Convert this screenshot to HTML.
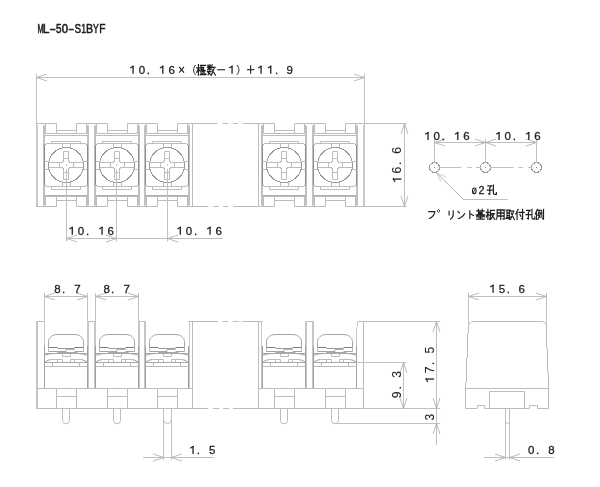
<!DOCTYPE html>
<html><head><meta charset="utf-8"><style>
html,body{margin:0;padding:0;background:#fff;}
svg{display:block;}
</style></head><body>
<svg width="600" height="487" viewBox="0 0 600 487">
<rect width="600" height="487" fill="#fff"/>
<g opacity="0.995">
<text transform="translate(37.40,32.70) scale(0.593,1)" x="0" y="0" font-family="Liberation Sans" font-weight="normal" font-size="12.35" fill="#1a1a1a" stroke="#1a1a1a" stroke-width="0.55">M</text>
<text transform="translate(42.71,32.70) scale(0.973,1)" x="0" y="0" font-family="Liberation Sans" font-weight="normal" font-size="12.35" fill="#1a1a1a" stroke="#1a1a1a" stroke-width="0.55">L</text>
<text transform="translate(49.44,32.70) scale(1.565,1)" x="0" y="0" font-family="Liberation Sans" font-weight="normal" font-size="12.30" fill="#1a1a1a" stroke="#1a1a1a" stroke-width="0.55">-</text>
<text transform="translate(55.90,32.70) scale(0.802,1)" x="0" y="0" font-family="Liberation Sans" font-weight="normal" font-size="12.35" fill="#1a1a1a" stroke="#1a1a1a" stroke-width="0.55">5</text>
<text transform="translate(61.86,32.70) scale(0.914,1)" x="0" y="0" font-family="Liberation Sans" font-weight="normal" font-size="12.35" fill="#1a1a1a" stroke="#1a1a1a" stroke-width="0.55">0</text>
<text transform="translate(68.22,32.70) scale(1.432,1)" x="0" y="0" font-family="Liberation Sans" font-weight="normal" font-size="12.30" fill="#1a1a1a" stroke="#1a1a1a" stroke-width="0.55">-</text>
<text transform="translate(74.55,32.70) scale(0.801,1)" x="0" y="0" font-family="Liberation Sans" font-weight="normal" font-size="12.35" fill="#1a1a1a" stroke="#1a1a1a" stroke-width="0.55">S</text>
<text transform="translate(81.35,32.70) scale(0.695,1)" x="0" y="0" font-family="Liberation Sans" font-weight="normal" font-size="12.35" fill="#1a1a1a" stroke="#1a1a1a" stroke-width="0.55">1</text>
<text transform="translate(86.12,32.70) scale(0.867,1)" x="0" y="0" font-family="Liberation Sans" font-weight="normal" font-size="12.35" fill="#1a1a1a" stroke="#1a1a1a" stroke-width="0.55">B</text>
<text transform="translate(93.11,32.70) scale(0.702,1)" x="0" y="0" font-family="Liberation Sans" font-weight="normal" font-size="12.35" fill="#1a1a1a" stroke="#1a1a1a" stroke-width="0.55">Y</text>
<text transform="translate(99.16,32.70) scale(0.828,1)" x="0" y="0" font-family="Liberation Sans" font-weight="normal" font-size="12.35" fill="#1a1a1a" stroke="#1a1a1a" stroke-width="0.55">F</text>
<line x1="36.50" y1="74.00" x2="36.50" y2="123.00" stroke="#c0c0c0" stroke-width="1.0"/>
<line x1="364.50" y1="73.50" x2="364.50" y2="123.00" stroke="#c0c0c0" stroke-width="1.0"/>
<line x1="36.50" y1="77.50" x2="364.50" y2="77.50" stroke="#c0c0c0" stroke-width="1.0"/>
<path d="M47.00,74.00 L36.50,77.50 L47.00,81.00" stroke="#b2b2b2" stroke-width="0.9" fill="none"/>
<path d="M354.00,81.00 L364.50,77.50 L354.00,74.00" stroke="#b2b2b2" stroke-width="0.9" fill="none"/>
<line x1="36.00" y1="123.50" x2="56.50" y2="123.50" stroke="#bcbcbc" stroke-width="1.0"/>
<line x1="76.50" y1="123.50" x2="107.50" y2="123.50" stroke="#bcbcbc" stroke-width="1.0"/>
<line x1="127.50" y1="123.50" x2="157.50" y2="123.50" stroke="#bcbcbc" stroke-width="1.0"/>
<line x1="177.50" y1="123.50" x2="217.70" y2="123.50" stroke="#bcbcbc" stroke-width="1.0"/>
<line x1="222.70" y1="123.50" x2="228.00" y2="123.50" stroke="#bcbcbc" stroke-width="1.0"/>
<line x1="232.70" y1="123.50" x2="238.00" y2="123.50" stroke="#bcbcbc" stroke-width="1.0"/>
<line x1="242.70" y1="123.50" x2="274.50" y2="123.50" stroke="#bcbcbc" stroke-width="1.0"/>
<line x1="294.50" y1="123.50" x2="325.50" y2="123.50" stroke="#bcbcbc" stroke-width="1.0"/>
<line x1="345.50" y1="123.50" x2="365.00" y2="123.50" stroke="#bcbcbc" stroke-width="1.0"/>
<line x1="36.00" y1="206.50" x2="56.50" y2="206.50" stroke="#bcbcbc" stroke-width="1.0"/>
<line x1="76.50" y1="206.50" x2="107.50" y2="206.50" stroke="#bcbcbc" stroke-width="1.0"/>
<line x1="127.50" y1="206.50" x2="157.50" y2="206.50" stroke="#bcbcbc" stroke-width="1.0"/>
<line x1="177.50" y1="206.50" x2="208.50" y2="206.50" stroke="#bcbcbc" stroke-width="1.0"/>
<line x1="213.30" y1="206.50" x2="218.70" y2="206.50" stroke="#bcbcbc" stroke-width="1.0"/>
<line x1="223.20" y1="206.50" x2="228.30" y2="206.50" stroke="#bcbcbc" stroke-width="1.0"/>
<line x1="233.20" y1="206.50" x2="274.50" y2="206.50" stroke="#bcbcbc" stroke-width="1.0"/>
<line x1="294.50" y1="206.50" x2="325.50" y2="206.50" stroke="#bcbcbc" stroke-width="1.0"/>
<line x1="345.50" y1="206.50" x2="365.00" y2="206.50" stroke="#bcbcbc" stroke-width="1.0"/>
<line x1="36.50" y1="124.00" x2="36.50" y2="206.00" stroke="#c4c4c4" stroke-width="1.0"/>
<line x1="37.50" y1="125.00" x2="37.50" y2="206.00" stroke="#cdcdcd" stroke-width="1.0"/>
<line x1="363.50" y1="125.00" x2="363.50" y2="206.00" stroke="#cdcdcd" stroke-width="1.0"/>
<line x1="364.50" y1="123.00" x2="364.50" y2="206.00" stroke="#c4c4c4" stroke-width="1.0"/>
<line x1="192.50" y1="123.50" x2="192.50" y2="206.50" stroke="#bcbcbc" stroke-width="1.0"/>
<line x1="258.50" y1="123.50" x2="258.50" y2="206.50" stroke="#bcbcbc" stroke-width="1.0"/>
<line x1="44.50" y1="125.50" x2="44.50" y2="205.50" stroke="#c0c0c0" stroke-width="1.0"/>
<line x1="43.50" y1="125.50" x2="43.50" y2="205.50" stroke="#c0c0c0" stroke-width="1.0"/>
<line x1="44.50" y1="145.00" x2="44.50" y2="185.00" stroke="#8c8c8c" stroke-width="1.0"/>
<line x1="87.50" y1="125.50" x2="87.50" y2="205.50" stroke="#c0c0c0" stroke-width="1.0"/>
<line x1="88.50" y1="125.50" x2="88.50" y2="205.50" stroke="#c0c0c0" stroke-width="1.0"/>
<line x1="87.50" y1="145.00" x2="87.50" y2="185.00" stroke="#8c8c8c" stroke-width="1.0"/>
<path d="M44.5,126 L45.5,124.5 M87.5,126 L86.5,124.5" stroke="#bcbcbc" stroke-width="1.0" fill="none"/>
<line x1="45.50" y1="123.50" x2="45.50" y2="133.50" stroke="#bcbcbc" stroke-width="1.0"/>
<line x1="56.50" y1="123.50" x2="56.50" y2="133.50" stroke="#bcbcbc" stroke-width="1.0"/>
<line x1="76.50" y1="123.50" x2="76.50" y2="133.50" stroke="#bcbcbc" stroke-width="1.0"/>
<line x1="86.50" y1="123.50" x2="86.50" y2="133.50" stroke="#bcbcbc" stroke-width="1.0"/>
<line x1="56.50" y1="130.50" x2="76.50" y2="130.50" stroke="#bcbcbc" stroke-width="1.0"/>
<line x1="45.50" y1="133.50" x2="86.50" y2="133.50" stroke="#bcbcbc" stroke-width="1.0"/>
<line x1="44.50" y1="135.50" x2="87.50" y2="135.50" stroke="#bcbcbc" stroke-width="1.0"/>
<line x1="51.50" y1="141.50" x2="80.50" y2="141.50" stroke="#bcbcbc" stroke-width="1.0"/>
<line x1="51.50" y1="141.50" x2="51.50" y2="143.50" stroke="#bcbcbc" stroke-width="1.0"/>
<line x1="80.50" y1="141.50" x2="80.50" y2="143.50" stroke="#bcbcbc" stroke-width="1.0"/>
<line x1="46.50" y1="143.50" x2="85.50" y2="143.50" stroke="#bcbcbc" stroke-width="1.0"/>
<line x1="46.50" y1="186.50" x2="85.50" y2="186.50" stroke="#bcbcbc" stroke-width="1.0"/>
<path d="M44.5,145.5 L46.5,143.5 M87.5,145.5 L85.5,143.5 M44.5,184.5 L46.5,186.5 M87.5,184.5 L85.5,186.5" stroke="#9a9a9a" stroke-width="1.0" fill="none"/>
<line x1="62.50" y1="143.50" x2="62.50" y2="148.20" stroke="#bcbcbc" stroke-width="1.0"/>
<line x1="62.50" y1="181.80" x2="62.50" y2="186.50" stroke="#bcbcbc" stroke-width="1.0"/>
<line x1="70.50" y1="143.50" x2="70.50" y2="148.20" stroke="#bcbcbc" stroke-width="1.0"/>
<line x1="70.50" y1="181.80" x2="70.50" y2="186.50" stroke="#bcbcbc" stroke-width="1.0"/>
<circle cx="66.00" cy="165.00" r="17.5" stroke="#9a9a9a" stroke-width="1.0" fill="none" shape-rendering="crispEdges"/>
<line x1="44.50" y1="161.50" x2="49.00" y2="161.50" stroke="#bcbcbc" stroke-width="1.0"/>
<line x1="44.50" y1="169.50" x2="49.00" y2="169.50" stroke="#bcbcbc" stroke-width="1.0"/>
<line x1="83.00" y1="161.50" x2="87.50" y2="161.50" stroke="#bcbcbc" stroke-width="1.0"/>
<line x1="83.00" y1="169.50" x2="87.50" y2="169.50" stroke="#bcbcbc" stroke-width="1.0"/>
<line x1="48.70" y1="162.50" x2="61.50" y2="162.50" stroke="#bcbcbc" stroke-width="1.0"/>
<line x1="48.70" y1="167.50" x2="61.50" y2="167.50" stroke="#bcbcbc" stroke-width="1.0"/>
<line x1="70.50" y1="162.50" x2="83.30" y2="162.50" stroke="#bcbcbc" stroke-width="1.0"/>
<line x1="70.50" y1="167.50" x2="83.30" y2="167.50" stroke="#bcbcbc" stroke-width="1.0"/>
<line x1="59.50" y1="162.50" x2="59.50" y2="167.50" stroke="#bcbcbc" stroke-width="1.0"/>
<line x1="73.50" y1="162.50" x2="73.50" y2="167.50" stroke="#bcbcbc" stroke-width="1.0"/>
<line x1="63.50" y1="151.50" x2="63.50" y2="160.50" stroke="#bcbcbc" stroke-width="1.0"/>
<line x1="68.50" y1="151.50" x2="68.50" y2="160.50" stroke="#bcbcbc" stroke-width="1.0"/>
<line x1="63.50" y1="151.50" x2="68.50" y2="151.50" stroke="#bcbcbc" stroke-width="1.0"/>
<line x1="63.50" y1="158.50" x2="68.50" y2="158.50" stroke="#bcbcbc" stroke-width="1.0"/>
<line x1="63.50" y1="169.50" x2="63.50" y2="179.50" stroke="#bcbcbc" stroke-width="1.0"/>
<line x1="68.50" y1="169.50" x2="68.50" y2="179.50" stroke="#bcbcbc" stroke-width="1.0"/>
<line x1="63.50" y1="179.50" x2="68.50" y2="179.50" stroke="#bcbcbc" stroke-width="1.0"/>
<line x1="63.50" y1="172.50" x2="68.50" y2="172.50" stroke="#bcbcbc" stroke-width="1.0"/>
<path d="M63.5,160.5 q0,2 -2,2 M68.5,160.5 q0,2 2,2 M63.5,169.5 q0,-2 -2,-2 M68.5,169.5 q0,-2 2,-2" stroke="#9a9a9a" stroke-width="1.0" fill="none"/>
<line x1="51.50" y1="189.50" x2="80.50" y2="189.50" stroke="#bcbcbc" stroke-width="1.0"/>
<line x1="51.50" y1="186.50" x2="51.50" y2="189.50" stroke="#bcbcbc" stroke-width="1.0"/>
<line x1="80.50" y1="186.50" x2="80.50" y2="189.50" stroke="#bcbcbc" stroke-width="1.0"/>
<line x1="44.50" y1="195.50" x2="87.50" y2="195.50" stroke="#b0b0b0" stroke-width="1.0"/>
<line x1="44.50" y1="196.50" x2="87.50" y2="196.50" stroke="#bcbcbc" stroke-width="1.0"/>
<line x1="56.50" y1="200.50" x2="76.50" y2="200.50" stroke="#bcbcbc" stroke-width="1.0"/>
<line x1="45.50" y1="196.50" x2="45.50" y2="206.50" stroke="#bcbcbc" stroke-width="1.0"/>
<line x1="56.50" y1="196.50" x2="56.50" y2="206.50" stroke="#bcbcbc" stroke-width="1.0"/>
<line x1="76.50" y1="196.50" x2="76.50" y2="206.50" stroke="#bcbcbc" stroke-width="1.0"/>
<line x1="86.50" y1="196.50" x2="86.50" y2="206.50" stroke="#bcbcbc" stroke-width="1.0"/>
<path d="M44.5,204.5 L45.5,206 M87.5,204.5 L86.5,206" stroke="#bcbcbc" stroke-width="1.0" fill="none"/>
<line x1="95.50" y1="125.50" x2="95.50" y2="205.50" stroke="#c0c0c0" stroke-width="1.0"/>
<line x1="94.50" y1="125.50" x2="94.50" y2="205.50" stroke="#c0c0c0" stroke-width="1.0"/>
<line x1="95.50" y1="145.00" x2="95.50" y2="185.00" stroke="#8c8c8c" stroke-width="1.0"/>
<line x1="138.50" y1="125.50" x2="138.50" y2="205.50" stroke="#c0c0c0" stroke-width="1.0"/>
<line x1="139.50" y1="125.50" x2="139.50" y2="205.50" stroke="#c0c0c0" stroke-width="1.0"/>
<line x1="138.50" y1="145.00" x2="138.50" y2="185.00" stroke="#8c8c8c" stroke-width="1.0"/>
<path d="M95.5,126 L96.5,124.5 M138.5,126 L137.5,124.5" stroke="#bcbcbc" stroke-width="1.0" fill="none"/>
<line x1="96.50" y1="123.50" x2="96.50" y2="133.50" stroke="#bcbcbc" stroke-width="1.0"/>
<line x1="107.50" y1="123.50" x2="107.50" y2="133.50" stroke="#bcbcbc" stroke-width="1.0"/>
<line x1="127.50" y1="123.50" x2="127.50" y2="133.50" stroke="#bcbcbc" stroke-width="1.0"/>
<line x1="137.50" y1="123.50" x2="137.50" y2="133.50" stroke="#bcbcbc" stroke-width="1.0"/>
<line x1="107.50" y1="130.50" x2="127.50" y2="130.50" stroke="#bcbcbc" stroke-width="1.0"/>
<line x1="96.50" y1="133.50" x2="137.50" y2="133.50" stroke="#bcbcbc" stroke-width="1.0"/>
<line x1="95.50" y1="135.50" x2="138.50" y2="135.50" stroke="#bcbcbc" stroke-width="1.0"/>
<line x1="102.50" y1="141.50" x2="131.50" y2="141.50" stroke="#bcbcbc" stroke-width="1.0"/>
<line x1="102.50" y1="141.50" x2="102.50" y2="143.50" stroke="#bcbcbc" stroke-width="1.0"/>
<line x1="131.50" y1="141.50" x2="131.50" y2="143.50" stroke="#bcbcbc" stroke-width="1.0"/>
<line x1="97.50" y1="143.50" x2="136.50" y2="143.50" stroke="#bcbcbc" stroke-width="1.0"/>
<line x1="97.50" y1="186.50" x2="136.50" y2="186.50" stroke="#bcbcbc" stroke-width="1.0"/>
<path d="M95.5,145.5 L97.5,143.5 M138.5,145.5 L136.5,143.5 M95.5,184.5 L97.5,186.5 M138.5,184.5 L136.5,186.5" stroke="#9a9a9a" stroke-width="1.0" fill="none"/>
<line x1="113.50" y1="143.50" x2="113.50" y2="148.20" stroke="#bcbcbc" stroke-width="1.0"/>
<line x1="113.50" y1="181.80" x2="113.50" y2="186.50" stroke="#bcbcbc" stroke-width="1.0"/>
<line x1="121.50" y1="143.50" x2="121.50" y2="148.20" stroke="#bcbcbc" stroke-width="1.0"/>
<line x1="121.50" y1="181.80" x2="121.50" y2="186.50" stroke="#bcbcbc" stroke-width="1.0"/>
<circle cx="117.00" cy="165.00" r="17.5" stroke="#9a9a9a" stroke-width="1.0" fill="none" shape-rendering="crispEdges"/>
<line x1="95.50" y1="161.50" x2="100.00" y2="161.50" stroke="#bcbcbc" stroke-width="1.0"/>
<line x1="95.50" y1="169.50" x2="100.00" y2="169.50" stroke="#bcbcbc" stroke-width="1.0"/>
<line x1="134.00" y1="161.50" x2="138.50" y2="161.50" stroke="#bcbcbc" stroke-width="1.0"/>
<line x1="134.00" y1="169.50" x2="138.50" y2="169.50" stroke="#bcbcbc" stroke-width="1.0"/>
<line x1="99.70" y1="162.50" x2="112.50" y2="162.50" stroke="#bcbcbc" stroke-width="1.0"/>
<line x1="99.70" y1="167.50" x2="112.50" y2="167.50" stroke="#bcbcbc" stroke-width="1.0"/>
<line x1="121.50" y1="162.50" x2="134.30" y2="162.50" stroke="#bcbcbc" stroke-width="1.0"/>
<line x1="121.50" y1="167.50" x2="134.30" y2="167.50" stroke="#bcbcbc" stroke-width="1.0"/>
<line x1="110.50" y1="162.50" x2="110.50" y2="167.50" stroke="#bcbcbc" stroke-width="1.0"/>
<line x1="124.50" y1="162.50" x2="124.50" y2="167.50" stroke="#bcbcbc" stroke-width="1.0"/>
<line x1="114.50" y1="151.50" x2="114.50" y2="160.50" stroke="#bcbcbc" stroke-width="1.0"/>
<line x1="119.50" y1="151.50" x2="119.50" y2="160.50" stroke="#bcbcbc" stroke-width="1.0"/>
<line x1="114.50" y1="151.50" x2="119.50" y2="151.50" stroke="#bcbcbc" stroke-width="1.0"/>
<line x1="114.50" y1="158.50" x2="119.50" y2="158.50" stroke="#bcbcbc" stroke-width="1.0"/>
<line x1="114.50" y1="169.50" x2="114.50" y2="179.50" stroke="#bcbcbc" stroke-width="1.0"/>
<line x1="119.50" y1="169.50" x2="119.50" y2="179.50" stroke="#bcbcbc" stroke-width="1.0"/>
<line x1="114.50" y1="179.50" x2="119.50" y2="179.50" stroke="#bcbcbc" stroke-width="1.0"/>
<line x1="114.50" y1="172.50" x2="119.50" y2="172.50" stroke="#bcbcbc" stroke-width="1.0"/>
<path d="M114.5,160.5 q0,2 -2,2 M119.5,160.5 q0,2 2,2 M114.5,169.5 q0,-2 -2,-2 M119.5,169.5 q0,-2 2,-2" stroke="#9a9a9a" stroke-width="1.0" fill="none"/>
<line x1="102.50" y1="189.50" x2="131.50" y2="189.50" stroke="#bcbcbc" stroke-width="1.0"/>
<line x1="102.50" y1="186.50" x2="102.50" y2="189.50" stroke="#bcbcbc" stroke-width="1.0"/>
<line x1="131.50" y1="186.50" x2="131.50" y2="189.50" stroke="#bcbcbc" stroke-width="1.0"/>
<line x1="95.50" y1="195.50" x2="138.50" y2="195.50" stroke="#b0b0b0" stroke-width="1.0"/>
<line x1="95.50" y1="196.50" x2="138.50" y2="196.50" stroke="#bcbcbc" stroke-width="1.0"/>
<line x1="107.50" y1="200.50" x2="127.50" y2="200.50" stroke="#bcbcbc" stroke-width="1.0"/>
<line x1="96.50" y1="196.50" x2="96.50" y2="206.50" stroke="#bcbcbc" stroke-width="1.0"/>
<line x1="107.50" y1="196.50" x2="107.50" y2="206.50" stroke="#bcbcbc" stroke-width="1.0"/>
<line x1="127.50" y1="196.50" x2="127.50" y2="206.50" stroke="#bcbcbc" stroke-width="1.0"/>
<line x1="137.50" y1="196.50" x2="137.50" y2="206.50" stroke="#bcbcbc" stroke-width="1.0"/>
<path d="M95.5,204.5 L96.5,206 M138.5,204.5 L137.5,206" stroke="#bcbcbc" stroke-width="1.0" fill="none"/>
<line x1="145.50" y1="125.50" x2="145.50" y2="205.50" stroke="#c0c0c0" stroke-width="1.0"/>
<line x1="144.50" y1="125.50" x2="144.50" y2="205.50" stroke="#c0c0c0" stroke-width="1.0"/>
<line x1="145.50" y1="145.00" x2="145.50" y2="185.00" stroke="#8c8c8c" stroke-width="1.0"/>
<line x1="188.50" y1="125.50" x2="188.50" y2="205.50" stroke="#c0c0c0" stroke-width="1.0"/>
<line x1="189.50" y1="125.50" x2="189.50" y2="205.50" stroke="#c0c0c0" stroke-width="1.0"/>
<line x1="188.50" y1="145.00" x2="188.50" y2="185.00" stroke="#8c8c8c" stroke-width="1.0"/>
<path d="M145.5,126 L146.5,124.5 M188.5,126 L187.5,124.5" stroke="#bcbcbc" stroke-width="1.0" fill="none"/>
<line x1="146.50" y1="123.50" x2="146.50" y2="133.50" stroke="#bcbcbc" stroke-width="1.0"/>
<line x1="157.50" y1="123.50" x2="157.50" y2="133.50" stroke="#bcbcbc" stroke-width="1.0"/>
<line x1="177.50" y1="123.50" x2="177.50" y2="133.50" stroke="#bcbcbc" stroke-width="1.0"/>
<line x1="187.50" y1="123.50" x2="187.50" y2="133.50" stroke="#bcbcbc" stroke-width="1.0"/>
<line x1="157.50" y1="130.50" x2="177.50" y2="130.50" stroke="#bcbcbc" stroke-width="1.0"/>
<line x1="146.50" y1="133.50" x2="187.50" y2="133.50" stroke="#bcbcbc" stroke-width="1.0"/>
<line x1="145.50" y1="135.50" x2="188.50" y2="135.50" stroke="#bcbcbc" stroke-width="1.0"/>
<line x1="152.50" y1="141.50" x2="181.50" y2="141.50" stroke="#bcbcbc" stroke-width="1.0"/>
<line x1="152.50" y1="141.50" x2="152.50" y2="143.50" stroke="#bcbcbc" stroke-width="1.0"/>
<line x1="181.50" y1="141.50" x2="181.50" y2="143.50" stroke="#bcbcbc" stroke-width="1.0"/>
<line x1="147.50" y1="143.50" x2="186.50" y2="143.50" stroke="#bcbcbc" stroke-width="1.0"/>
<line x1="147.50" y1="186.50" x2="186.50" y2="186.50" stroke="#bcbcbc" stroke-width="1.0"/>
<path d="M145.5,145.5 L147.5,143.5 M188.5,145.5 L186.5,143.5 M145.5,184.5 L147.5,186.5 M188.5,184.5 L186.5,186.5" stroke="#9a9a9a" stroke-width="1.0" fill="none"/>
<line x1="163.50" y1="143.50" x2="163.50" y2="148.20" stroke="#bcbcbc" stroke-width="1.0"/>
<line x1="163.50" y1="181.80" x2="163.50" y2="186.50" stroke="#bcbcbc" stroke-width="1.0"/>
<line x1="171.50" y1="143.50" x2="171.50" y2="148.20" stroke="#bcbcbc" stroke-width="1.0"/>
<line x1="171.50" y1="181.80" x2="171.50" y2="186.50" stroke="#bcbcbc" stroke-width="1.0"/>
<circle cx="167.00" cy="165.00" r="17.5" stroke="#9a9a9a" stroke-width="1.0" fill="none" shape-rendering="crispEdges"/>
<line x1="145.50" y1="161.50" x2="150.00" y2="161.50" stroke="#bcbcbc" stroke-width="1.0"/>
<line x1="145.50" y1="169.50" x2="150.00" y2="169.50" stroke="#bcbcbc" stroke-width="1.0"/>
<line x1="184.00" y1="161.50" x2="188.50" y2="161.50" stroke="#bcbcbc" stroke-width="1.0"/>
<line x1="184.00" y1="169.50" x2="188.50" y2="169.50" stroke="#bcbcbc" stroke-width="1.0"/>
<line x1="149.70" y1="162.50" x2="162.50" y2="162.50" stroke="#bcbcbc" stroke-width="1.0"/>
<line x1="149.70" y1="167.50" x2="162.50" y2="167.50" stroke="#bcbcbc" stroke-width="1.0"/>
<line x1="171.50" y1="162.50" x2="184.30" y2="162.50" stroke="#bcbcbc" stroke-width="1.0"/>
<line x1="171.50" y1="167.50" x2="184.30" y2="167.50" stroke="#bcbcbc" stroke-width="1.0"/>
<line x1="160.50" y1="162.50" x2="160.50" y2="167.50" stroke="#bcbcbc" stroke-width="1.0"/>
<line x1="174.50" y1="162.50" x2="174.50" y2="167.50" stroke="#bcbcbc" stroke-width="1.0"/>
<line x1="164.50" y1="151.50" x2="164.50" y2="160.50" stroke="#bcbcbc" stroke-width="1.0"/>
<line x1="169.50" y1="151.50" x2="169.50" y2="160.50" stroke="#bcbcbc" stroke-width="1.0"/>
<line x1="164.50" y1="151.50" x2="169.50" y2="151.50" stroke="#bcbcbc" stroke-width="1.0"/>
<line x1="164.50" y1="158.50" x2="169.50" y2="158.50" stroke="#bcbcbc" stroke-width="1.0"/>
<line x1="164.50" y1="169.50" x2="164.50" y2="179.50" stroke="#bcbcbc" stroke-width="1.0"/>
<line x1="169.50" y1="169.50" x2="169.50" y2="179.50" stroke="#bcbcbc" stroke-width="1.0"/>
<line x1="164.50" y1="179.50" x2="169.50" y2="179.50" stroke="#bcbcbc" stroke-width="1.0"/>
<line x1="164.50" y1="172.50" x2="169.50" y2="172.50" stroke="#bcbcbc" stroke-width="1.0"/>
<path d="M164.5,160.5 q0,2 -2,2 M169.5,160.5 q0,2 2,2 M164.5,169.5 q0,-2 -2,-2 M169.5,169.5 q0,-2 2,-2" stroke="#9a9a9a" stroke-width="1.0" fill="none"/>
<line x1="152.50" y1="189.50" x2="181.50" y2="189.50" stroke="#bcbcbc" stroke-width="1.0"/>
<line x1="152.50" y1="186.50" x2="152.50" y2="189.50" stroke="#bcbcbc" stroke-width="1.0"/>
<line x1="181.50" y1="186.50" x2="181.50" y2="189.50" stroke="#bcbcbc" stroke-width="1.0"/>
<line x1="145.50" y1="195.50" x2="188.50" y2="195.50" stroke="#b0b0b0" stroke-width="1.0"/>
<line x1="145.50" y1="196.50" x2="188.50" y2="196.50" stroke="#bcbcbc" stroke-width="1.0"/>
<line x1="157.50" y1="200.50" x2="177.50" y2="200.50" stroke="#bcbcbc" stroke-width="1.0"/>
<line x1="146.50" y1="196.50" x2="146.50" y2="206.50" stroke="#bcbcbc" stroke-width="1.0"/>
<line x1="157.50" y1="196.50" x2="157.50" y2="206.50" stroke="#bcbcbc" stroke-width="1.0"/>
<line x1="177.50" y1="196.50" x2="177.50" y2="206.50" stroke="#bcbcbc" stroke-width="1.0"/>
<line x1="187.50" y1="196.50" x2="187.50" y2="206.50" stroke="#bcbcbc" stroke-width="1.0"/>
<path d="M145.5,204.5 L146.5,206 M188.5,204.5 L187.5,206" stroke="#bcbcbc" stroke-width="1.0" fill="none"/>
<line x1="262.50" y1="125.50" x2="262.50" y2="205.50" stroke="#c0c0c0" stroke-width="1.0"/>
<line x1="261.50" y1="125.50" x2="261.50" y2="205.50" stroke="#c0c0c0" stroke-width="1.0"/>
<line x1="262.50" y1="145.00" x2="262.50" y2="185.00" stroke="#8c8c8c" stroke-width="1.0"/>
<line x1="305.50" y1="125.50" x2="305.50" y2="205.50" stroke="#c0c0c0" stroke-width="1.0"/>
<line x1="306.50" y1="125.50" x2="306.50" y2="205.50" stroke="#c0c0c0" stroke-width="1.0"/>
<line x1="305.50" y1="145.00" x2="305.50" y2="185.00" stroke="#8c8c8c" stroke-width="1.0"/>
<path d="M262.5,126 L263.5,124.5 M305.5,126 L304.5,124.5" stroke="#bcbcbc" stroke-width="1.0" fill="none"/>
<line x1="263.50" y1="123.50" x2="263.50" y2="133.50" stroke="#bcbcbc" stroke-width="1.0"/>
<line x1="274.50" y1="123.50" x2="274.50" y2="133.50" stroke="#bcbcbc" stroke-width="1.0"/>
<line x1="294.50" y1="123.50" x2="294.50" y2="133.50" stroke="#bcbcbc" stroke-width="1.0"/>
<line x1="304.50" y1="123.50" x2="304.50" y2="133.50" stroke="#bcbcbc" stroke-width="1.0"/>
<line x1="274.50" y1="130.50" x2="294.50" y2="130.50" stroke="#bcbcbc" stroke-width="1.0"/>
<line x1="263.50" y1="133.50" x2="304.50" y2="133.50" stroke="#bcbcbc" stroke-width="1.0"/>
<line x1="262.50" y1="135.50" x2="305.50" y2="135.50" stroke="#bcbcbc" stroke-width="1.0"/>
<line x1="269.50" y1="141.50" x2="298.50" y2="141.50" stroke="#bcbcbc" stroke-width="1.0"/>
<line x1="269.50" y1="141.50" x2="269.50" y2="143.50" stroke="#bcbcbc" stroke-width="1.0"/>
<line x1="298.50" y1="141.50" x2="298.50" y2="143.50" stroke="#bcbcbc" stroke-width="1.0"/>
<line x1="264.50" y1="143.50" x2="303.50" y2="143.50" stroke="#bcbcbc" stroke-width="1.0"/>
<line x1="264.50" y1="186.50" x2="303.50" y2="186.50" stroke="#bcbcbc" stroke-width="1.0"/>
<path d="M262.5,145.5 L264.5,143.5 M305.5,145.5 L303.5,143.5 M262.5,184.5 L264.5,186.5 M305.5,184.5 L303.5,186.5" stroke="#9a9a9a" stroke-width="1.0" fill="none"/>
<line x1="280.50" y1="143.50" x2="280.50" y2="148.20" stroke="#bcbcbc" stroke-width="1.0"/>
<line x1="280.50" y1="181.80" x2="280.50" y2="186.50" stroke="#bcbcbc" stroke-width="1.0"/>
<line x1="288.50" y1="143.50" x2="288.50" y2="148.20" stroke="#bcbcbc" stroke-width="1.0"/>
<line x1="288.50" y1="181.80" x2="288.50" y2="186.50" stroke="#bcbcbc" stroke-width="1.0"/>
<circle cx="284.00" cy="165.00" r="17.5" stroke="#9a9a9a" stroke-width="1.0" fill="none" shape-rendering="crispEdges"/>
<line x1="262.50" y1="161.50" x2="267.00" y2="161.50" stroke="#bcbcbc" stroke-width="1.0"/>
<line x1="262.50" y1="169.50" x2="267.00" y2="169.50" stroke="#bcbcbc" stroke-width="1.0"/>
<line x1="301.00" y1="161.50" x2="305.50" y2="161.50" stroke="#bcbcbc" stroke-width="1.0"/>
<line x1="301.00" y1="169.50" x2="305.50" y2="169.50" stroke="#bcbcbc" stroke-width="1.0"/>
<line x1="266.70" y1="162.50" x2="279.50" y2="162.50" stroke="#bcbcbc" stroke-width="1.0"/>
<line x1="266.70" y1="167.50" x2="279.50" y2="167.50" stroke="#bcbcbc" stroke-width="1.0"/>
<line x1="288.50" y1="162.50" x2="301.30" y2="162.50" stroke="#bcbcbc" stroke-width="1.0"/>
<line x1="288.50" y1="167.50" x2="301.30" y2="167.50" stroke="#bcbcbc" stroke-width="1.0"/>
<line x1="277.50" y1="162.50" x2="277.50" y2="167.50" stroke="#bcbcbc" stroke-width="1.0"/>
<line x1="291.50" y1="162.50" x2="291.50" y2="167.50" stroke="#bcbcbc" stroke-width="1.0"/>
<line x1="281.50" y1="151.50" x2="281.50" y2="160.50" stroke="#bcbcbc" stroke-width="1.0"/>
<line x1="286.50" y1="151.50" x2="286.50" y2="160.50" stroke="#bcbcbc" stroke-width="1.0"/>
<line x1="281.50" y1="151.50" x2="286.50" y2="151.50" stroke="#bcbcbc" stroke-width="1.0"/>
<line x1="281.50" y1="158.50" x2="286.50" y2="158.50" stroke="#bcbcbc" stroke-width="1.0"/>
<line x1="281.50" y1="169.50" x2="281.50" y2="179.50" stroke="#bcbcbc" stroke-width="1.0"/>
<line x1="286.50" y1="169.50" x2="286.50" y2="179.50" stroke="#bcbcbc" stroke-width="1.0"/>
<line x1="281.50" y1="179.50" x2="286.50" y2="179.50" stroke="#bcbcbc" stroke-width="1.0"/>
<line x1="281.50" y1="172.50" x2="286.50" y2="172.50" stroke="#bcbcbc" stroke-width="1.0"/>
<path d="M281.5,160.5 q0,2 -2,2 M286.5,160.5 q0,2 2,2 M281.5,169.5 q0,-2 -2,-2 M286.5,169.5 q0,-2 2,-2" stroke="#9a9a9a" stroke-width="1.0" fill="none"/>
<line x1="269.50" y1="189.50" x2="298.50" y2="189.50" stroke="#bcbcbc" stroke-width="1.0"/>
<line x1="269.50" y1="186.50" x2="269.50" y2="189.50" stroke="#bcbcbc" stroke-width="1.0"/>
<line x1="298.50" y1="186.50" x2="298.50" y2="189.50" stroke="#bcbcbc" stroke-width="1.0"/>
<line x1="262.50" y1="195.50" x2="305.50" y2="195.50" stroke="#b0b0b0" stroke-width="1.0"/>
<line x1="262.50" y1="196.50" x2="305.50" y2="196.50" stroke="#bcbcbc" stroke-width="1.0"/>
<line x1="274.50" y1="200.50" x2="294.50" y2="200.50" stroke="#bcbcbc" stroke-width="1.0"/>
<line x1="263.50" y1="196.50" x2="263.50" y2="206.50" stroke="#bcbcbc" stroke-width="1.0"/>
<line x1="274.50" y1="196.50" x2="274.50" y2="206.50" stroke="#bcbcbc" stroke-width="1.0"/>
<line x1="294.50" y1="196.50" x2="294.50" y2="206.50" stroke="#bcbcbc" stroke-width="1.0"/>
<line x1="304.50" y1="196.50" x2="304.50" y2="206.50" stroke="#bcbcbc" stroke-width="1.0"/>
<path d="M262.5,204.5 L263.5,206 M305.5,204.5 L304.5,206" stroke="#bcbcbc" stroke-width="1.0" fill="none"/>
<line x1="313.50" y1="125.50" x2="313.50" y2="205.50" stroke="#c0c0c0" stroke-width="1.0"/>
<line x1="312.50" y1="125.50" x2="312.50" y2="205.50" stroke="#c0c0c0" stroke-width="1.0"/>
<line x1="313.50" y1="145.00" x2="313.50" y2="185.00" stroke="#8c8c8c" stroke-width="1.0"/>
<line x1="356.50" y1="125.50" x2="356.50" y2="205.50" stroke="#c0c0c0" stroke-width="1.0"/>
<line x1="357.50" y1="125.50" x2="357.50" y2="205.50" stroke="#c0c0c0" stroke-width="1.0"/>
<line x1="356.50" y1="145.00" x2="356.50" y2="185.00" stroke="#8c8c8c" stroke-width="1.0"/>
<path d="M313.5,126 L314.5,124.5 M356.5,126 L355.5,124.5" stroke="#bcbcbc" stroke-width="1.0" fill="none"/>
<line x1="314.50" y1="123.50" x2="314.50" y2="133.50" stroke="#bcbcbc" stroke-width="1.0"/>
<line x1="325.50" y1="123.50" x2="325.50" y2="133.50" stroke="#bcbcbc" stroke-width="1.0"/>
<line x1="345.50" y1="123.50" x2="345.50" y2="133.50" stroke="#bcbcbc" stroke-width="1.0"/>
<line x1="355.50" y1="123.50" x2="355.50" y2="133.50" stroke="#bcbcbc" stroke-width="1.0"/>
<line x1="325.50" y1="130.50" x2="345.50" y2="130.50" stroke="#bcbcbc" stroke-width="1.0"/>
<line x1="314.50" y1="133.50" x2="355.50" y2="133.50" stroke="#bcbcbc" stroke-width="1.0"/>
<line x1="313.50" y1="135.50" x2="356.50" y2="135.50" stroke="#bcbcbc" stroke-width="1.0"/>
<line x1="320.50" y1="141.50" x2="349.50" y2="141.50" stroke="#bcbcbc" stroke-width="1.0"/>
<line x1="320.50" y1="141.50" x2="320.50" y2="143.50" stroke="#bcbcbc" stroke-width="1.0"/>
<line x1="349.50" y1="141.50" x2="349.50" y2="143.50" stroke="#bcbcbc" stroke-width="1.0"/>
<line x1="315.50" y1="143.50" x2="354.50" y2="143.50" stroke="#bcbcbc" stroke-width="1.0"/>
<line x1="315.50" y1="186.50" x2="354.50" y2="186.50" stroke="#bcbcbc" stroke-width="1.0"/>
<path d="M313.5,145.5 L315.5,143.5 M356.5,145.5 L354.5,143.5 M313.5,184.5 L315.5,186.5 M356.5,184.5 L354.5,186.5" stroke="#9a9a9a" stroke-width="1.0" fill="none"/>
<line x1="331.50" y1="143.50" x2="331.50" y2="148.20" stroke="#bcbcbc" stroke-width="1.0"/>
<line x1="331.50" y1="181.80" x2="331.50" y2="186.50" stroke="#bcbcbc" stroke-width="1.0"/>
<line x1="339.50" y1="143.50" x2="339.50" y2="148.20" stroke="#bcbcbc" stroke-width="1.0"/>
<line x1="339.50" y1="181.80" x2="339.50" y2="186.50" stroke="#bcbcbc" stroke-width="1.0"/>
<circle cx="335.00" cy="165.00" r="17.5" stroke="#9a9a9a" stroke-width="1.0" fill="none" shape-rendering="crispEdges"/>
<line x1="313.50" y1="161.50" x2="318.00" y2="161.50" stroke="#bcbcbc" stroke-width="1.0"/>
<line x1="313.50" y1="169.50" x2="318.00" y2="169.50" stroke="#bcbcbc" stroke-width="1.0"/>
<line x1="352.00" y1="161.50" x2="356.50" y2="161.50" stroke="#bcbcbc" stroke-width="1.0"/>
<line x1="352.00" y1="169.50" x2="356.50" y2="169.50" stroke="#bcbcbc" stroke-width="1.0"/>
<line x1="317.70" y1="162.50" x2="330.50" y2="162.50" stroke="#bcbcbc" stroke-width="1.0"/>
<line x1="317.70" y1="167.50" x2="330.50" y2="167.50" stroke="#bcbcbc" stroke-width="1.0"/>
<line x1="339.50" y1="162.50" x2="352.30" y2="162.50" stroke="#bcbcbc" stroke-width="1.0"/>
<line x1="339.50" y1="167.50" x2="352.30" y2="167.50" stroke="#bcbcbc" stroke-width="1.0"/>
<line x1="328.50" y1="162.50" x2="328.50" y2="167.50" stroke="#bcbcbc" stroke-width="1.0"/>
<line x1="342.50" y1="162.50" x2="342.50" y2="167.50" stroke="#bcbcbc" stroke-width="1.0"/>
<line x1="332.50" y1="151.50" x2="332.50" y2="160.50" stroke="#bcbcbc" stroke-width="1.0"/>
<line x1="337.50" y1="151.50" x2="337.50" y2="160.50" stroke="#bcbcbc" stroke-width="1.0"/>
<line x1="332.50" y1="151.50" x2="337.50" y2="151.50" stroke="#bcbcbc" stroke-width="1.0"/>
<line x1="332.50" y1="158.50" x2="337.50" y2="158.50" stroke="#bcbcbc" stroke-width="1.0"/>
<line x1="332.50" y1="169.50" x2="332.50" y2="179.50" stroke="#bcbcbc" stroke-width="1.0"/>
<line x1="337.50" y1="169.50" x2="337.50" y2="179.50" stroke="#bcbcbc" stroke-width="1.0"/>
<line x1="332.50" y1="179.50" x2="337.50" y2="179.50" stroke="#bcbcbc" stroke-width="1.0"/>
<line x1="332.50" y1="172.50" x2="337.50" y2="172.50" stroke="#bcbcbc" stroke-width="1.0"/>
<path d="M332.5,160.5 q0,2 -2,2 M337.5,160.5 q0,2 2,2 M332.5,169.5 q0,-2 -2,-2 M337.5,169.5 q0,-2 2,-2" stroke="#9a9a9a" stroke-width="1.0" fill="none"/>
<line x1="320.50" y1="189.50" x2="349.50" y2="189.50" stroke="#bcbcbc" stroke-width="1.0"/>
<line x1="320.50" y1="186.50" x2="320.50" y2="189.50" stroke="#bcbcbc" stroke-width="1.0"/>
<line x1="349.50" y1="186.50" x2="349.50" y2="189.50" stroke="#bcbcbc" stroke-width="1.0"/>
<line x1="313.50" y1="195.50" x2="356.50" y2="195.50" stroke="#b0b0b0" stroke-width="1.0"/>
<line x1="313.50" y1="196.50" x2="356.50" y2="196.50" stroke="#bcbcbc" stroke-width="1.0"/>
<line x1="325.50" y1="200.50" x2="345.50" y2="200.50" stroke="#bcbcbc" stroke-width="1.0"/>
<line x1="314.50" y1="196.50" x2="314.50" y2="206.50" stroke="#bcbcbc" stroke-width="1.0"/>
<line x1="325.50" y1="196.50" x2="325.50" y2="206.50" stroke="#bcbcbc" stroke-width="1.0"/>
<line x1="345.50" y1="196.50" x2="345.50" y2="206.50" stroke="#bcbcbc" stroke-width="1.0"/>
<line x1="355.50" y1="196.50" x2="355.50" y2="206.50" stroke="#bcbcbc" stroke-width="1.0"/>
<path d="M313.5,204.5 L314.5,206 M356.5,204.5 L355.5,206" stroke="#bcbcbc" stroke-width="1.0" fill="none"/>
<line x1="66.50" y1="169.00" x2="66.50" y2="241.50" stroke="#c0c0c0" stroke-width="1.0"/>
<rect x="66.0" y="164.5" width="1" height="1" fill="#909090"/>
<line x1="116.50" y1="169.00" x2="116.50" y2="241.50" stroke="#c0c0c0" stroke-width="1.0"/>
<rect x="116.0" y="164.5" width="1" height="1" fill="#909090"/>
<line x1="167.50" y1="169.00" x2="167.50" y2="241.50" stroke="#c0c0c0" stroke-width="1.0"/>
<rect x="167.0" y="164.5" width="1" height="1" fill="#909090"/>
<line x1="66.00" y1="238.50" x2="222.70" y2="238.50" stroke="#c0c0c0" stroke-width="1.0"/>
<path d="M77.00,235.00 L66.50,238.50 L77.00,242.00" stroke="#b2b2b2" stroke-width="0.9" fill="none"/>
<path d="M106.00,242.00 L116.50,238.50 L106.00,235.00" stroke="#b2b2b2" stroke-width="0.9" fill="none"/>
<path d="M178.00,235.00 L167.50,238.50 L178.00,242.00" stroke="#b2b2b2" stroke-width="0.9" fill="none"/>
<path d="M72.30,226.75 V234.80" stroke="#1e1e1e" stroke-width="1.3" fill="none"/>
<path d="M72.80,226.95 L69.45,228.95" stroke="#1e1e1e" stroke-width="1.15" fill="none"/>
<path d="M102.05,226.75 V234.80" stroke="#1e1e1e" stroke-width="1.3" fill="none"/>
<path d="M102.55,226.95 L99.20,228.95" stroke="#1e1e1e" stroke-width="1.15" fill="none"/>
<text x="77.80 86.10 107.42" y="234.80" font-family="Liberation Sans" font-size="11.5" fill="#1e1e1e" stroke="#1e1e1e" stroke-width="0.3">0.6</text>
<path d="M180.30,226.75 V234.80" stroke="#1e1e1e" stroke-width="1.3" fill="none"/>
<path d="M180.80,226.95 L177.45,228.95" stroke="#1e1e1e" stroke-width="1.15" fill="none"/>
<path d="M210.05,226.75 V234.80" stroke="#1e1e1e" stroke-width="1.3" fill="none"/>
<path d="M210.55,226.95 L207.20,228.95" stroke="#1e1e1e" stroke-width="1.15" fill="none"/>
<text x="185.80 194.10 215.42" y="234.80" font-family="Liberation Sans" font-size="11.5" fill="#1e1e1e" stroke="#1e1e1e" stroke-width="0.3">0.6</text>
<path d="M133.05,65.75 V73.80" stroke="#1e1e1e" stroke-width="1.3" fill="none"/>
<path d="M133.55,65.95 L130.20,67.95" stroke="#1e1e1e" stroke-width="1.15" fill="none"/>
<path d="M162.80,65.75 V73.80" stroke="#1e1e1e" stroke-width="1.3" fill="none"/>
<path d="M163.30,65.95 L159.95,67.95" stroke="#1e1e1e" stroke-width="1.15" fill="none"/>
<path d="M232.05,65.75 V73.80" stroke="#1e1e1e" stroke-width="1.3" fill="none"/>
<path d="M232.55,65.95 L229.20,67.95" stroke="#1e1e1e" stroke-width="1.15" fill="none"/>
<path d="M261.05,65.75 V73.80" stroke="#1e1e1e" stroke-width="1.3" fill="none"/>
<path d="M261.55,65.95 L258.20,67.95" stroke="#1e1e1e" stroke-width="1.15" fill="none"/>
<path d="M270.75,65.75 V73.80" stroke="#1e1e1e" stroke-width="1.3" fill="none"/>
<path d="M271.25,65.95 L267.90,67.95" stroke="#1e1e1e" stroke-width="1.15" fill="none"/>
<text x="138.80 146.75 168.42 274.95 286.46" y="73.80" font-family="Liberation Sans" font-size="11.5" fill="#1e1e1e" stroke="#1e1e1e" stroke-width="0.3">0.6.9</text>
<path d="M195.7,65.0 C192.9,67.4 192.9,72.4 195.7,74.8" stroke="#1e1e1e" stroke-width="0.95" fill="none"/>
<path d="M236.8,65.0 C239.6,67.4 239.6,72.4 236.8,74.8" stroke="#1e1e1e" stroke-width="0.95" fill="none"/>
<line x1="179.10" y1="66.90" x2="184.00" y2="72.60" stroke="#1e1e1e" stroke-width="1.15"/>
<line x1="184.00" y1="66.90" x2="179.10" y2="72.60" stroke="#1e1e1e" stroke-width="1.15"/>
<line x1="247.00" y1="69.70" x2="254.30" y2="69.70" stroke="#1e1e1e" stroke-width="1.1"/>
<line x1="250.65" y1="65.30" x2="250.65" y2="73.80" stroke="#1e1e1e" stroke-width="1.1"/>
<rect x="217.3" y="69.2" width="7.7" height="1.1" fill="#1e1e1e"/>
<line x1="364.50" y1="123.50" x2="406.50" y2="123.50" stroke="#c0c0c0" stroke-width="1.0"/>
<line x1="364.50" y1="206.50" x2="406.50" y2="206.50" stroke="#c0c0c0" stroke-width="1.0"/>
<line x1="404.50" y1="123.50" x2="404.50" y2="206.50" stroke="#c0c0c0" stroke-width="1.0"/>
<path d="M408.00,134.00 L404.50,123.50 L401.00,134.00" stroke="#b2b2b2" stroke-width="0.9" fill="none"/>
<path d="M401.00,196.00 L404.50,206.50 L408.00,196.00" stroke="#b2b2b2" stroke-width="0.9" fill="none"/>
<g transform="translate(401.40,182.10) rotate(-90)">
<path d="M3.05,-8.54 V0.00" stroke="#1e1e1e" stroke-width="1.3" fill="none"/>
<path d="M3.55,-8.34 L0.20,-6.34" stroke="#1e1e1e" stroke-width="1.15" fill="none"/>
<text x="8.58 16.99 28.48" y="0.00" font-family="Liberation Sans" font-size="12.2" fill="#1e1e1e" stroke="#1e1e1e" stroke-width="0.12">6.6</text>
</g>
<circle cx="434.50" cy="167.50" r="5.0" stroke="#9a9a9a" stroke-width="1.0" fill="none" shape-rendering="crispEdges"/>
<rect x="434.00" y="167" width="1" height="1" fill="#888"/>
<line x1="434.50" y1="139.00" x2="434.50" y2="162.90" stroke="#c0c0c0" stroke-width="1.0"/>
<circle cx="485.50" cy="167.50" r="5.0" stroke="#9a9a9a" stroke-width="1.0" fill="none" shape-rendering="crispEdges"/>
<rect x="485.00" y="167" width="1" height="1" fill="#888"/>
<line x1="485.50" y1="139.00" x2="485.50" y2="162.90" stroke="#c0c0c0" stroke-width="1.0"/>
<circle cx="536.50" cy="167.50" r="5.0" stroke="#9a9a9a" stroke-width="1.0" fill="none" shape-rendering="crispEdges"/>
<rect x="536.00" y="167" width="1" height="1" fill="#888"/>
<line x1="536.50" y1="139.00" x2="536.50" y2="162.90" stroke="#c0c0c0" stroke-width="1.0"/>
<line x1="434.50" y1="142.50" x2="536.50" y2="142.50" stroke="#c0c0c0" stroke-width="1.0"/>
<path d="M445.00,139.00 L434.50,142.50 L445.00,146.00" stroke="#b2b2b2" stroke-width="0.9" fill="none"/>
<path d="M475.00,146.00 L485.50,142.50 L475.00,139.00" stroke="#b2b2b2" stroke-width="0.9" fill="none"/>
<path d="M496.00,139.00 L485.50,142.50 L496.00,146.00" stroke="#b2b2b2" stroke-width="0.9" fill="none"/>
<path d="M526.00,146.00 L536.50,142.50 L526.00,139.00" stroke="#b2b2b2" stroke-width="0.9" fill="none"/>
<line x1="439.80" y1="167.50" x2="461.40" y2="167.50" stroke="#c0c0c0" stroke-width="1.0"/>
<line x1="467.30" y1="167.50" x2="472.00" y2="167.50" stroke="#c0c0c0" stroke-width="1.0"/>
<line x1="476.00" y1="167.50" x2="480.90" y2="167.50" stroke="#c0c0c0" stroke-width="1.0"/>
<line x1="490.10" y1="167.50" x2="513.80" y2="167.50" stroke="#c0c0c0" stroke-width="1.0"/>
<line x1="518.50" y1="167.50" x2="523.20" y2="167.50" stroke="#c0c0c0" stroke-width="1.0"/>
<line x1="528.20" y1="167.50" x2="531.90" y2="167.50" stroke="#c0c0c0" stroke-width="1.0"/>
<path d="M428.05,131.95 V140.00" stroke="#1e1e1e" stroke-width="1.3" fill="none"/>
<path d="M428.55,132.15 L425.20,134.15" stroke="#1e1e1e" stroke-width="1.15" fill="none"/>
<path d="M457.80,131.95 V140.00" stroke="#1e1e1e" stroke-width="1.3" fill="none"/>
<path d="M458.30,132.15 L454.95,134.15" stroke="#1e1e1e" stroke-width="1.15" fill="none"/>
<text x="433.55 441.85 463.17" y="140.00" font-family="Liberation Sans" font-size="11.5" fill="#1e1e1e" stroke="#1e1e1e" stroke-width="0.3">0.6</text>
<path d="M499.05,131.95 V140.00" stroke="#1e1e1e" stroke-width="1.3" fill="none"/>
<path d="M499.55,132.15 L496.20,134.15" stroke="#1e1e1e" stroke-width="1.15" fill="none"/>
<path d="M528.80,131.95 V140.00" stroke="#1e1e1e" stroke-width="1.3" fill="none"/>
<path d="M529.30,132.15 L525.95,134.15" stroke="#1e1e1e" stroke-width="1.15" fill="none"/>
<text x="504.55 512.85 534.17" y="140.00" font-family="Liberation Sans" font-size="11.5" fill="#1e1e1e" stroke="#1e1e1e" stroke-width="0.3">0.6</text>
<path d="M436.6,173 L463.5,199.5" stroke="#a8a8a8" stroke-width="0.9" fill="none"/>
<line x1="463.50" y1="199.50" x2="507.60" y2="199.50" stroke="#c0c0c0" stroke-width="1.0"/>
<path d="M446.2,177.0 L436.6,173 L441.0,181.9" stroke="#c0c0c0" stroke-width="0.8" fill="none"/>
<line x1="44.50" y1="293.00" x2="44.50" y2="321.50" stroke="#c0c0c0" stroke-width="1.0"/>
<line x1="87.50" y1="293.00" x2="87.50" y2="321.50" stroke="#c0c0c0" stroke-width="1.0"/>
<line x1="44.50" y1="296.50" x2="87.50" y2="296.50" stroke="#c0c0c0" stroke-width="1.0"/>
<path d="M55.00,293.00 L44.50,296.50 L55.00,300.00" stroke="#b2b2b2" stroke-width="0.9" fill="none"/>
<path d="M77.00,300.00 L87.50,296.50 L77.00,293.00" stroke="#b2b2b2" stroke-width="0.9" fill="none"/>
<line x1="95.50" y1="293.00" x2="95.50" y2="321.50" stroke="#c0c0c0" stroke-width="1.0"/>
<line x1="138.50" y1="293.00" x2="138.50" y2="321.50" stroke="#c0c0c0" stroke-width="1.0"/>
<line x1="95.50" y1="296.50" x2="138.50" y2="296.50" stroke="#c0c0c0" stroke-width="1.0"/>
<path d="M106.00,293.00 L95.50,296.50 L106.00,300.00" stroke="#b2b2b2" stroke-width="0.9" fill="none"/>
<path d="M128.00,300.00 L138.50,296.50 L128.00,293.00" stroke="#b2b2b2" stroke-width="0.9" fill="none"/>
<text x="54.25 61.95 74.16" y="292.80" font-family="Liberation Sans" font-size="11.5" fill="#1e1e1e" stroke="#1e1e1e" stroke-width="0.3">8.7</text>
<text x="103.50 110.95 123.41" y="292.80" font-family="Liberation Sans" font-size="11.5" fill="#1e1e1e" stroke="#1e1e1e" stroke-width="0.3">8.7</text>
<line x1="36.50" y1="321.50" x2="36.50" y2="408.50" stroke="#c6c6c6" stroke-width="1.0"/>
<line x1="37.50" y1="321.50" x2="37.50" y2="408.50" stroke="#c6c6c6" stroke-width="1.0"/>
<line x1="36.50" y1="321.50" x2="44.50" y2="321.50" stroke="#bcbcbc" stroke-width="1.0"/>
<line x1="44.50" y1="321.50" x2="44.50" y2="388.50" stroke="#c6c6c6" stroke-width="1.0"/>
<line x1="87.50" y1="321.50" x2="95.50" y2="321.50" stroke="#bcbcbc" stroke-width="1.0"/>
<line x1="87.50" y1="321.50" x2="87.50" y2="388.50" stroke="#c6c6c6" stroke-width="1.0"/>
<line x1="88.50" y1="321.50" x2="88.50" y2="388.50" stroke="#c6c6c6" stroke-width="1.0"/>
<line x1="94.50" y1="321.50" x2="94.50" y2="388.50" stroke="#c6c6c6" stroke-width="1.0"/>
<line x1="95.50" y1="321.50" x2="95.50" y2="388.50" stroke="#c6c6c6" stroke-width="1.0"/>
<line x1="138.50" y1="321.50" x2="145.50" y2="321.50" stroke="#bcbcbc" stroke-width="1.0"/>
<line x1="138.50" y1="321.50" x2="138.50" y2="388.50" stroke="#c6c6c6" stroke-width="1.0"/>
<line x1="139.50" y1="321.50" x2="139.50" y2="388.50" stroke="#c6c6c6" stroke-width="1.0"/>
<line x1="144.50" y1="321.50" x2="144.50" y2="388.50" stroke="#c6c6c6" stroke-width="1.0"/>
<line x1="145.50" y1="321.50" x2="145.50" y2="388.50" stroke="#c6c6c6" stroke-width="1.0"/>
<line x1="305.50" y1="321.50" x2="313.50" y2="321.50" stroke="#bcbcbc" stroke-width="1.0"/>
<line x1="305.50" y1="321.50" x2="305.50" y2="388.50" stroke="#c6c6c6" stroke-width="1.0"/>
<line x1="306.50" y1="321.50" x2="306.50" y2="388.50" stroke="#c6c6c6" stroke-width="1.0"/>
<line x1="312.50" y1="321.50" x2="312.50" y2="388.50" stroke="#c6c6c6" stroke-width="1.0"/>
<line x1="313.50" y1="321.50" x2="313.50" y2="388.50" stroke="#c6c6c6" stroke-width="1.0"/>
<line x1="44.50" y1="346.00" x2="44.50" y2="388.50" stroke="#a0a0a0" stroke-width="1.0"/>
<line x1="87.50" y1="346.00" x2="87.50" y2="388.50" stroke="#a0a0a0" stroke-width="1.0"/>
<line x1="95.50" y1="346.00" x2="95.50" y2="388.50" stroke="#a0a0a0" stroke-width="1.0"/>
<line x1="138.50" y1="346.00" x2="138.50" y2="388.50" stroke="#a0a0a0" stroke-width="1.0"/>
<line x1="145.50" y1="346.00" x2="145.50" y2="388.50" stroke="#a0a0a0" stroke-width="1.0"/>
<line x1="188.50" y1="346.00" x2="188.50" y2="388.50" stroke="#a0a0a0" stroke-width="1.0"/>
<line x1="262.50" y1="346.00" x2="262.50" y2="388.50" stroke="#a0a0a0" stroke-width="1.0"/>
<line x1="305.50" y1="346.00" x2="305.50" y2="388.50" stroke="#a0a0a0" stroke-width="1.0"/>
<line x1="313.50" y1="346.00" x2="313.50" y2="388.50" stroke="#a0a0a0" stroke-width="1.0"/>
<line x1="356.50" y1="346.00" x2="356.50" y2="388.50" stroke="#a0a0a0" stroke-width="1.0"/>
<line x1="189.50" y1="321.50" x2="189.50" y2="388.50" stroke="#c6c6c6" stroke-width="1.0"/>
<line x1="192.50" y1="321.50" x2="192.50" y2="408.50" stroke="#bcbcbc" stroke-width="1.0"/>
<line x1="188.50" y1="321.50" x2="218.20" y2="321.50" stroke="#bcbcbc" stroke-width="1.0"/>
<line x1="222.50" y1="321.50" x2="228.20" y2="321.50" stroke="#bcbcbc" stroke-width="1.0"/>
<line x1="232.60" y1="321.50" x2="238.10" y2="321.50" stroke="#bcbcbc" stroke-width="1.0"/>
<line x1="242.50" y1="321.50" x2="262.50" y2="321.50" stroke="#bcbcbc" stroke-width="1.0"/>
<line x1="238.10" y1="321.50" x2="242.50" y2="321.50" stroke="#e2e2e2" stroke-width="1.0"/>
<line x1="258.50" y1="321.50" x2="258.50" y2="408.50" stroke="#bcbcbc" stroke-width="1.0"/>
<line x1="261.50" y1="321.50" x2="261.50" y2="388.50" stroke="#c6c6c6" stroke-width="1.0"/>
<path d="M357.5,321.5 V326.5 L356.5,327.5 V346" stroke="#c6c6c6" stroke-width="1.0" fill="none"/>
<line x1="363.50" y1="321.50" x2="363.50" y2="408.50" stroke="#bcbcbc" stroke-width="1.0"/>
<line x1="357.50" y1="321.50" x2="440.20" y2="321.50" stroke="#c0c0c0" stroke-width="1.0"/>
<line x1="36.80" y1="388.50" x2="192.50" y2="388.50" stroke="#bcbcbc" stroke-width="1.0"/>
<line x1="258.50" y1="388.50" x2="363.50" y2="388.50" stroke="#bcbcbc" stroke-width="1.0"/>
<line x1="36.50" y1="408.50" x2="208.30" y2="408.50" stroke="#bcbcbc" stroke-width="1.0"/>
<line x1="212.90" y1="408.50" x2="219.20" y2="408.50" stroke="#bcbcbc" stroke-width="1.0"/>
<line x1="223.30" y1="408.50" x2="229.20" y2="408.50" stroke="#bcbcbc" stroke-width="1.0"/>
<line x1="232.90" y1="408.50" x2="363.50" y2="408.50" stroke="#bcbcbc" stroke-width="1.0"/>
<line x1="363.50" y1="408.50" x2="440.20" y2="408.50" stroke="#c0c0c0" stroke-width="1.0"/>
<line x1="56.50" y1="388.50" x2="56.50" y2="408.50" stroke="#bcbcbc" stroke-width="1.0"/>
<line x1="76.50" y1="388.50" x2="76.50" y2="408.50" stroke="#bcbcbc" stroke-width="1.0"/>
<line x1="56.50" y1="396.50" x2="76.50" y2="396.50" stroke="#bcbcbc" stroke-width="1.0"/>
<path d="M62.5,408.5 V420.3 q0,3.5 3.5,3.5 q3.5,0 3.5,-3.5 V408.5" stroke="#bcbcbc" stroke-width="1.0" fill="none"/>
<path d="M48.5,347.5 V341.5 A8.5,7 0 0 1 57,334.5 H75 A8.5,7 0 0 1 83.5,341.5 V347.5" stroke="#a4a4a4" stroke-width="1.0" fill="none"/>
<line x1="48.50" y1="347.50" x2="57.50" y2="347.50" stroke="#7a7a7a" stroke-width="1.0"/>
<line x1="74.50" y1="347.50" x2="83.50" y2="347.50" stroke="#7a7a7a" stroke-width="1.0"/>
<line x1="57.50" y1="348.50" x2="74.50" y2="348.50" stroke="#9c9c9c" stroke-width="1.0"/>
<line x1="48.50" y1="347.50" x2="48.50" y2="351.50" stroke="#bcbcbc" stroke-width="1.0"/>
<line x1="83.50" y1="347.50" x2="83.50" y2="351.50" stroke="#bcbcbc" stroke-width="1.0"/>
<line x1="48.50" y1="351.50" x2="65.20" y2="351.50" stroke="#a4a4a4" stroke-width="1.0"/>
<line x1="74.50" y1="351.50" x2="83.50" y2="351.50" stroke="#a4a4a4" stroke-width="1.0"/>
<line x1="57.50" y1="352.50" x2="77.50" y2="352.50" stroke="#a8a8a8" stroke-width="1.0"/>
<line x1="57.50" y1="351.50" x2="57.50" y2="353.50" stroke="#bcbcbc" stroke-width="1.0"/>
<line x1="66.20" y1="349.50" x2="74.70" y2="349.50" stroke="#b0b0b0" stroke-width="1.0"/>
<line x1="66.20" y1="349.50" x2="65.10" y2="353.00" stroke="#999999" stroke-width="1.0"/>
<line x1="44.50" y1="353.50" x2="87.50" y2="353.50" stroke="#a8a8a8" stroke-width="1.0"/>
<line x1="62.50" y1="353.50" x2="62.50" y2="356.50" stroke="#bcbcbc" stroke-width="1.0"/>
<line x1="70.50" y1="353.50" x2="70.50" y2="356.50" stroke="#bcbcbc" stroke-width="1.0"/>
<line x1="62.50" y1="356.50" x2="70.50" y2="356.50" stroke="#bcbcbc" stroke-width="1.0"/>
<path d="M44.5,355.4 Q49,353.6 53.2,353.5 M87.5,355.4 Q83,353.6 78.8,353.5" stroke="#a0a0a0" stroke-width="1.0" fill="none"/>
<path d="M44.5,362.3 Q48,359.6 51.5,359.5 M87.5,362.3 Q84,359.6 80.5,359.5" stroke="#a0a0a0" stroke-width="1.0" fill="none"/>
<line x1="51.50" y1="359.50" x2="62.50" y2="359.50" stroke="#bcbcbc" stroke-width="1.0"/>
<line x1="70.50" y1="359.50" x2="80.50" y2="359.50" stroke="#bcbcbc" stroke-width="1.0"/>
<line x1="57.50" y1="359.50" x2="57.50" y2="362.50" stroke="#bcbcbc" stroke-width="1.0"/>
<line x1="62.50" y1="359.50" x2="62.50" y2="362.50" stroke="#bcbcbc" stroke-width="1.0"/>
<line x1="70.50" y1="359.50" x2="70.50" y2="362.50" stroke="#bcbcbc" stroke-width="1.0"/>
<line x1="74.50" y1="359.50" x2="74.50" y2="362.50" stroke="#bcbcbc" stroke-width="1.0"/>
<line x1="44.50" y1="362.50" x2="87.50" y2="362.50" stroke="#a8a8a8" stroke-width="1.0"/>
<line x1="44.50" y1="366.50" x2="87.50" y2="366.50" stroke="#bcbcbc" stroke-width="1.0"/>
<line x1="52.50" y1="362.50" x2="52.50" y2="366.50" stroke="#bcbcbc" stroke-width="1.0"/>
<line x1="79.50" y1="362.50" x2="79.50" y2="366.50" stroke="#bcbcbc" stroke-width="1.0"/>
<line x1="107.50" y1="388.50" x2="107.50" y2="408.50" stroke="#bcbcbc" stroke-width="1.0"/>
<line x1="127.50" y1="388.50" x2="127.50" y2="408.50" stroke="#bcbcbc" stroke-width="1.0"/>
<line x1="107.50" y1="396.50" x2="127.50" y2="396.50" stroke="#bcbcbc" stroke-width="1.0"/>
<path d="M113.5,408.5 V420.3 q0,3.5 3.5,3.5 q3.5,0 3.5,-3.5 V408.5" stroke="#bcbcbc" stroke-width="1.0" fill="none"/>
<path d="M99.5,347.5 V341.5 A8.5,7 0 0 1 108,334.5 H126 A8.5,7 0 0 1 134.5,341.5 V347.5" stroke="#a4a4a4" stroke-width="1.0" fill="none"/>
<line x1="99.50" y1="347.50" x2="108.50" y2="347.50" stroke="#7a7a7a" stroke-width="1.0"/>
<line x1="125.50" y1="347.50" x2="134.50" y2="347.50" stroke="#7a7a7a" stroke-width="1.0"/>
<line x1="108.50" y1="348.50" x2="125.50" y2="348.50" stroke="#9c9c9c" stroke-width="1.0"/>
<line x1="99.50" y1="347.50" x2="99.50" y2="351.50" stroke="#bcbcbc" stroke-width="1.0"/>
<line x1="134.50" y1="347.50" x2="134.50" y2="351.50" stroke="#bcbcbc" stroke-width="1.0"/>
<line x1="99.50" y1="351.50" x2="116.20" y2="351.50" stroke="#a4a4a4" stroke-width="1.0"/>
<line x1="125.50" y1="351.50" x2="134.50" y2="351.50" stroke="#a4a4a4" stroke-width="1.0"/>
<line x1="108.50" y1="352.50" x2="128.50" y2="352.50" stroke="#a8a8a8" stroke-width="1.0"/>
<line x1="108.50" y1="351.50" x2="108.50" y2="353.50" stroke="#bcbcbc" stroke-width="1.0"/>
<line x1="117.20" y1="349.50" x2="125.70" y2="349.50" stroke="#b0b0b0" stroke-width="1.0"/>
<line x1="117.20" y1="349.50" x2="116.10" y2="353.00" stroke="#999999" stroke-width="1.0"/>
<line x1="95.50" y1="353.50" x2="138.50" y2="353.50" stroke="#a8a8a8" stroke-width="1.0"/>
<line x1="113.50" y1="353.50" x2="113.50" y2="356.50" stroke="#bcbcbc" stroke-width="1.0"/>
<line x1="121.50" y1="353.50" x2="121.50" y2="356.50" stroke="#bcbcbc" stroke-width="1.0"/>
<line x1="113.50" y1="356.50" x2="121.50" y2="356.50" stroke="#bcbcbc" stroke-width="1.0"/>
<path d="M95.5,355.4 Q100,353.6 104.2,353.5 M138.5,355.4 Q134,353.6 129.8,353.5" stroke="#a0a0a0" stroke-width="1.0" fill="none"/>
<path d="M95.5,362.3 Q99,359.6 102.5,359.5 M138.5,362.3 Q135,359.6 131.5,359.5" stroke="#a0a0a0" stroke-width="1.0" fill="none"/>
<line x1="102.50" y1="359.50" x2="113.50" y2="359.50" stroke="#bcbcbc" stroke-width="1.0"/>
<line x1="121.50" y1="359.50" x2="131.50" y2="359.50" stroke="#bcbcbc" stroke-width="1.0"/>
<line x1="108.50" y1="359.50" x2="108.50" y2="362.50" stroke="#bcbcbc" stroke-width="1.0"/>
<line x1="113.50" y1="359.50" x2="113.50" y2="362.50" stroke="#bcbcbc" stroke-width="1.0"/>
<line x1="121.50" y1="359.50" x2="121.50" y2="362.50" stroke="#bcbcbc" stroke-width="1.0"/>
<line x1="125.50" y1="359.50" x2="125.50" y2="362.50" stroke="#bcbcbc" stroke-width="1.0"/>
<line x1="95.50" y1="362.50" x2="138.50" y2="362.50" stroke="#a8a8a8" stroke-width="1.0"/>
<line x1="95.50" y1="366.50" x2="138.50" y2="366.50" stroke="#bcbcbc" stroke-width="1.0"/>
<line x1="103.50" y1="362.50" x2="103.50" y2="366.50" stroke="#bcbcbc" stroke-width="1.0"/>
<line x1="130.50" y1="362.50" x2="130.50" y2="366.50" stroke="#bcbcbc" stroke-width="1.0"/>
<line x1="157.50" y1="388.50" x2="157.50" y2="408.50" stroke="#bcbcbc" stroke-width="1.0"/>
<line x1="177.50" y1="388.50" x2="177.50" y2="408.50" stroke="#bcbcbc" stroke-width="1.0"/>
<line x1="157.50" y1="396.50" x2="177.50" y2="396.50" stroke="#bcbcbc" stroke-width="1.0"/>
<line x1="163.50" y1="408.50" x2="163.50" y2="459.70" stroke="#c0c0c0" stroke-width="1.0"/>
<line x1="171.50" y1="408.50" x2="171.50" y2="459.70" stroke="#c0c0c0" stroke-width="1.0"/>
<path d="M163.5,419.5 q0,4 4,4 q4,0 4,-4" stroke="#bcbcbc" stroke-width="1.0" fill="none"/>
<path d="M149.5,347.5 V341.5 A8.5,7 0 0 1 158,334.5 H176 A8.5,7 0 0 1 184.5,341.5 V347.5" stroke="#a4a4a4" stroke-width="1.0" fill="none"/>
<line x1="149.50" y1="347.50" x2="158.50" y2="347.50" stroke="#7a7a7a" stroke-width="1.0"/>
<line x1="175.50" y1="347.50" x2="184.50" y2="347.50" stroke="#7a7a7a" stroke-width="1.0"/>
<line x1="158.50" y1="348.50" x2="175.50" y2="348.50" stroke="#9c9c9c" stroke-width="1.0"/>
<line x1="149.50" y1="347.50" x2="149.50" y2="351.50" stroke="#bcbcbc" stroke-width="1.0"/>
<line x1="184.50" y1="347.50" x2="184.50" y2="351.50" stroke="#bcbcbc" stroke-width="1.0"/>
<line x1="149.50" y1="351.50" x2="166.20" y2="351.50" stroke="#a4a4a4" stroke-width="1.0"/>
<line x1="175.50" y1="351.50" x2="184.50" y2="351.50" stroke="#a4a4a4" stroke-width="1.0"/>
<line x1="158.50" y1="352.50" x2="178.50" y2="352.50" stroke="#a8a8a8" stroke-width="1.0"/>
<line x1="158.50" y1="351.50" x2="158.50" y2="353.50" stroke="#bcbcbc" stroke-width="1.0"/>
<line x1="167.20" y1="349.50" x2="175.70" y2="349.50" stroke="#b0b0b0" stroke-width="1.0"/>
<line x1="167.20" y1="349.50" x2="166.10" y2="353.00" stroke="#999999" stroke-width="1.0"/>
<line x1="145.50" y1="353.50" x2="188.50" y2="353.50" stroke="#a8a8a8" stroke-width="1.0"/>
<line x1="163.50" y1="353.50" x2="163.50" y2="356.50" stroke="#bcbcbc" stroke-width="1.0"/>
<line x1="171.50" y1="353.50" x2="171.50" y2="356.50" stroke="#bcbcbc" stroke-width="1.0"/>
<line x1="163.50" y1="356.50" x2="171.50" y2="356.50" stroke="#bcbcbc" stroke-width="1.0"/>
<path d="M145.5,355.4 Q150,353.6 154.2,353.5 M188.5,355.4 Q184,353.6 179.8,353.5" stroke="#a0a0a0" stroke-width="1.0" fill="none"/>
<path d="M145.5,362.3 Q149,359.6 152.5,359.5 M188.5,362.3 Q185,359.6 181.5,359.5" stroke="#a0a0a0" stroke-width="1.0" fill="none"/>
<line x1="152.50" y1="359.50" x2="163.50" y2="359.50" stroke="#bcbcbc" stroke-width="1.0"/>
<line x1="171.50" y1="359.50" x2="181.50" y2="359.50" stroke="#bcbcbc" stroke-width="1.0"/>
<line x1="158.50" y1="359.50" x2="158.50" y2="362.50" stroke="#bcbcbc" stroke-width="1.0"/>
<line x1="163.50" y1="359.50" x2="163.50" y2="362.50" stroke="#bcbcbc" stroke-width="1.0"/>
<line x1="171.50" y1="359.50" x2="171.50" y2="362.50" stroke="#bcbcbc" stroke-width="1.0"/>
<line x1="175.50" y1="359.50" x2="175.50" y2="362.50" stroke="#bcbcbc" stroke-width="1.0"/>
<line x1="145.50" y1="362.50" x2="188.50" y2="362.50" stroke="#a8a8a8" stroke-width="1.0"/>
<line x1="145.50" y1="366.50" x2="188.50" y2="366.50" stroke="#bcbcbc" stroke-width="1.0"/>
<line x1="153.50" y1="362.50" x2="153.50" y2="366.50" stroke="#bcbcbc" stroke-width="1.0"/>
<line x1="180.50" y1="362.50" x2="180.50" y2="366.50" stroke="#bcbcbc" stroke-width="1.0"/>
<line x1="274.50" y1="388.50" x2="274.50" y2="408.50" stroke="#bcbcbc" stroke-width="1.0"/>
<line x1="294.50" y1="388.50" x2="294.50" y2="408.50" stroke="#bcbcbc" stroke-width="1.0"/>
<line x1="274.50" y1="396.50" x2="294.50" y2="396.50" stroke="#bcbcbc" stroke-width="1.0"/>
<path d="M280.5,408.5 V420.3 q0,3.5 3.5,3.5 q3.5,0 3.5,-3.5 V408.5" stroke="#bcbcbc" stroke-width="1.0" fill="none"/>
<path d="M266.5,347.5 V341.5 A8.5,7 0 0 1 275,334.5 H293 A8.5,7 0 0 1 301.5,341.5 V347.5" stroke="#a4a4a4" stroke-width="1.0" fill="none"/>
<line x1="266.50" y1="347.50" x2="275.50" y2="347.50" stroke="#7a7a7a" stroke-width="1.0"/>
<line x1="292.50" y1="347.50" x2="301.50" y2="347.50" stroke="#7a7a7a" stroke-width="1.0"/>
<line x1="275.50" y1="348.50" x2="292.50" y2="348.50" stroke="#9c9c9c" stroke-width="1.0"/>
<line x1="266.50" y1="347.50" x2="266.50" y2="351.50" stroke="#bcbcbc" stroke-width="1.0"/>
<line x1="301.50" y1="347.50" x2="301.50" y2="351.50" stroke="#bcbcbc" stroke-width="1.0"/>
<line x1="266.50" y1="351.50" x2="283.20" y2="351.50" stroke="#a4a4a4" stroke-width="1.0"/>
<line x1="292.50" y1="351.50" x2="301.50" y2="351.50" stroke="#a4a4a4" stroke-width="1.0"/>
<line x1="275.50" y1="352.50" x2="295.50" y2="352.50" stroke="#a8a8a8" stroke-width="1.0"/>
<line x1="275.50" y1="351.50" x2="275.50" y2="353.50" stroke="#bcbcbc" stroke-width="1.0"/>
<line x1="284.20" y1="349.50" x2="292.70" y2="349.50" stroke="#b0b0b0" stroke-width="1.0"/>
<line x1="284.20" y1="349.50" x2="283.10" y2="353.00" stroke="#999999" stroke-width="1.0"/>
<line x1="262.50" y1="353.50" x2="305.50" y2="353.50" stroke="#a8a8a8" stroke-width="1.0"/>
<line x1="280.50" y1="353.50" x2="280.50" y2="356.50" stroke="#bcbcbc" stroke-width="1.0"/>
<line x1="288.50" y1="353.50" x2="288.50" y2="356.50" stroke="#bcbcbc" stroke-width="1.0"/>
<line x1="280.50" y1="356.50" x2="288.50" y2="356.50" stroke="#bcbcbc" stroke-width="1.0"/>
<path d="M262.5,355.4 Q267,353.6 271.2,353.5 M305.5,355.4 Q301,353.6 296.8,353.5" stroke="#a0a0a0" stroke-width="1.0" fill="none"/>
<path d="M262.5,362.3 Q266,359.6 269.5,359.5 M305.5,362.3 Q302,359.6 298.5,359.5" stroke="#a0a0a0" stroke-width="1.0" fill="none"/>
<line x1="269.50" y1="359.50" x2="280.50" y2="359.50" stroke="#bcbcbc" stroke-width="1.0"/>
<line x1="288.50" y1="359.50" x2="298.50" y2="359.50" stroke="#bcbcbc" stroke-width="1.0"/>
<line x1="275.50" y1="359.50" x2="275.50" y2="362.50" stroke="#bcbcbc" stroke-width="1.0"/>
<line x1="280.50" y1="359.50" x2="280.50" y2="362.50" stroke="#bcbcbc" stroke-width="1.0"/>
<line x1="288.50" y1="359.50" x2="288.50" y2="362.50" stroke="#bcbcbc" stroke-width="1.0"/>
<line x1="292.50" y1="359.50" x2="292.50" y2="362.50" stroke="#bcbcbc" stroke-width="1.0"/>
<line x1="262.50" y1="362.50" x2="305.50" y2="362.50" stroke="#a8a8a8" stroke-width="1.0"/>
<line x1="262.50" y1="366.50" x2="305.50" y2="366.50" stroke="#bcbcbc" stroke-width="1.0"/>
<line x1="270.50" y1="362.50" x2="270.50" y2="366.50" stroke="#bcbcbc" stroke-width="1.0"/>
<line x1="297.50" y1="362.50" x2="297.50" y2="366.50" stroke="#bcbcbc" stroke-width="1.0"/>
<line x1="325.50" y1="388.50" x2="325.50" y2="408.50" stroke="#bcbcbc" stroke-width="1.0"/>
<line x1="345.50" y1="388.50" x2="345.50" y2="408.50" stroke="#bcbcbc" stroke-width="1.0"/>
<line x1="325.50" y1="396.50" x2="345.50" y2="396.50" stroke="#bcbcbc" stroke-width="1.0"/>
<path d="M331.5,408.5 V420.3 q0,3.5 3.5,3.5 q3.5,0 3.5,-3.5 V408.5" stroke="#bcbcbc" stroke-width="1.0" fill="none"/>
<path d="M317.5,347.5 V341.5 A8.5,7 0 0 1 326,334.5 H344 A8.5,7 0 0 1 352.5,341.5 V347.5" stroke="#a4a4a4" stroke-width="1.0" fill="none"/>
<line x1="317.50" y1="347.50" x2="326.50" y2="347.50" stroke="#7a7a7a" stroke-width="1.0"/>
<line x1="343.50" y1="347.50" x2="352.50" y2="347.50" stroke="#7a7a7a" stroke-width="1.0"/>
<line x1="326.50" y1="348.50" x2="343.50" y2="348.50" stroke="#9c9c9c" stroke-width="1.0"/>
<line x1="317.50" y1="347.50" x2="317.50" y2="351.50" stroke="#bcbcbc" stroke-width="1.0"/>
<line x1="352.50" y1="347.50" x2="352.50" y2="351.50" stroke="#bcbcbc" stroke-width="1.0"/>
<line x1="317.50" y1="351.50" x2="334.20" y2="351.50" stroke="#a4a4a4" stroke-width="1.0"/>
<line x1="343.50" y1="351.50" x2="352.50" y2="351.50" stroke="#a4a4a4" stroke-width="1.0"/>
<line x1="326.50" y1="352.50" x2="346.50" y2="352.50" stroke="#a8a8a8" stroke-width="1.0"/>
<line x1="326.50" y1="351.50" x2="326.50" y2="353.50" stroke="#bcbcbc" stroke-width="1.0"/>
<line x1="335.20" y1="349.50" x2="343.70" y2="349.50" stroke="#b0b0b0" stroke-width="1.0"/>
<line x1="335.20" y1="349.50" x2="334.10" y2="353.00" stroke="#999999" stroke-width="1.0"/>
<line x1="313.50" y1="353.50" x2="356.50" y2="353.50" stroke="#a8a8a8" stroke-width="1.0"/>
<line x1="331.50" y1="353.50" x2="331.50" y2="356.50" stroke="#bcbcbc" stroke-width="1.0"/>
<line x1="339.50" y1="353.50" x2="339.50" y2="356.50" stroke="#bcbcbc" stroke-width="1.0"/>
<line x1="331.50" y1="356.50" x2="339.50" y2="356.50" stroke="#bcbcbc" stroke-width="1.0"/>
<path d="M313.5,355.4 Q318,353.6 322.2,353.5 M356.5,355.4 Q352,353.6 347.8,353.5" stroke="#a0a0a0" stroke-width="1.0" fill="none"/>
<path d="M313.5,362.3 Q317,359.6 320.5,359.5 M356.5,362.3 Q353,359.6 349.5,359.5" stroke="#a0a0a0" stroke-width="1.0" fill="none"/>
<line x1="320.50" y1="359.50" x2="331.50" y2="359.50" stroke="#bcbcbc" stroke-width="1.0"/>
<line x1="339.50" y1="359.50" x2="349.50" y2="359.50" stroke="#bcbcbc" stroke-width="1.0"/>
<line x1="326.50" y1="359.50" x2="326.50" y2="362.50" stroke="#bcbcbc" stroke-width="1.0"/>
<line x1="331.50" y1="359.50" x2="331.50" y2="362.50" stroke="#bcbcbc" stroke-width="1.0"/>
<line x1="339.50" y1="359.50" x2="339.50" y2="362.50" stroke="#bcbcbc" stroke-width="1.0"/>
<line x1="343.50" y1="359.50" x2="343.50" y2="362.50" stroke="#bcbcbc" stroke-width="1.0"/>
<line x1="313.50" y1="362.50" x2="356.50" y2="362.50" stroke="#a8a8a8" stroke-width="1.0"/>
<line x1="313.50" y1="366.50" x2="356.50" y2="366.50" stroke="#bcbcbc" stroke-width="1.0"/>
<line x1="321.50" y1="362.50" x2="321.50" y2="366.50" stroke="#bcbcbc" stroke-width="1.0"/>
<line x1="348.50" y1="362.50" x2="348.50" y2="366.50" stroke="#bcbcbc" stroke-width="1.0"/>
<line x1="436.50" y1="321.50" x2="436.50" y2="444.70" stroke="#c0c0c0" stroke-width="1.0"/>
<path d="M440.00,332.00 L436.50,321.50 L433.00,332.00" stroke="#b2b2b2" stroke-width="0.9" fill="none"/>
<path d="M433.00,398.00 L436.50,408.50 L440.00,398.00" stroke="#b2b2b2" stroke-width="0.9" fill="none"/>
<path d="M440.00,434.00 L436.50,423.50 L433.00,434.00" stroke="#b2b2b2" stroke-width="0.9" fill="none"/>
<line x1="357.00" y1="362.50" x2="406.20" y2="362.50" stroke="#c0c0c0" stroke-width="1.0"/>
<line x1="403.50" y1="362.50" x2="403.50" y2="408.50" stroke="#c0c0c0" stroke-width="1.0"/>
<path d="M407.00,373.00 L403.50,362.50 L400.00,373.00" stroke="#b2b2b2" stroke-width="0.9" fill="none"/>
<path d="M400.00,398.00 L403.50,408.50 L407.00,398.00" stroke="#b2b2b2" stroke-width="0.9" fill="none"/>
<line x1="335.00" y1="423.50" x2="440.20" y2="423.50" stroke="#c0c0c0" stroke-width="1.0"/>
<g transform="translate(434.10,382.10) rotate(-90)">
<path d="M3.05,-8.54 V0.00" stroke="#1e1e1e" stroke-width="1.3" fill="none"/>
<path d="M3.55,-8.34 L0.20,-6.34" stroke="#1e1e1e" stroke-width="1.15" fill="none"/>
<text x="8.77 16.99 28.71" y="0.00" font-family="Liberation Sans" font-size="12.2" fill="#1e1e1e" stroke="#1e1e1e" stroke-width="0.12">7.5</text>
</g>
<g transform="translate(401.00,397.60) rotate(-90)">
<text x="-0.57 8.39 19.84" y="0.00" font-family="Liberation Sans" font-size="12.2" fill="#1e1e1e" stroke="#1e1e1e" stroke-width="0.12">9.3</text>
</g>
<g transform="translate(434.20,420.00) rotate(-90)">
<text x="-0.46" y="0.00" font-family="Liberation Sans" font-size="12.2" fill="#1e1e1e" stroke="#1e1e1e" stroke-width="0.12">3</text>
</g>
<line x1="143.00" y1="457.50" x2="214.20" y2="457.50" stroke="#c0c0c0" stroke-width="1.0"/>
<path d="M153.20,461.00 L163.70,457.50 L153.20,454.00" stroke="#b2b2b2" stroke-width="0.9" fill="none"/>
<path d="M181.80,454.00 L171.30,457.50 L181.80,461.00" stroke="#b2b2b2" stroke-width="0.9" fill="none"/>
<path d="M193.05,445.95 V454.00" stroke="#1e1e1e" stroke-width="1.3" fill="none"/>
<path d="M193.55,446.15 L190.20,448.15" stroke="#1e1e1e" stroke-width="1.15" fill="none"/>
<text x="196.70 209.04" y="454.00" font-family="Liberation Sans" font-size="11.5" fill="#1e1e1e" stroke="#1e1e1e" stroke-width="0.3">.5</text>
<line x1="468.50" y1="292.80" x2="468.50" y2="324.00" stroke="#c0c0c0" stroke-width="1.0"/>
<line x1="546.50" y1="292.80" x2="546.50" y2="326.00" stroke="#c0c0c0" stroke-width="1.0"/>
<line x1="468.50" y1="296.50" x2="546.50" y2="296.50" stroke="#c0c0c0" stroke-width="1.0"/>
<path d="M479.00,293.00 L468.50,296.50 L479.00,300.00" stroke="#b2b2b2" stroke-width="0.9" fill="none"/>
<path d="M536.00,300.00 L546.50,296.50 L536.00,293.00" stroke="#b2b2b2" stroke-width="0.9" fill="none"/>
<path d="M493.05,284.75 V292.80" stroke="#1e1e1e" stroke-width="1.3" fill="none"/>
<path d="M493.55,284.95 L490.20,286.95" stroke="#1e1e1e" stroke-width="1.15" fill="none"/>
<text x="498.79 506.70 518.42" y="292.80" font-family="Liberation Sans" font-size="11.5" fill="#1e1e1e" stroke="#1e1e1e" stroke-width="0.3">5.6</text>
<path d="M468.5,327.5 Q468.5,321.5 474,321.5 H541 Q546.5,321.5 546.5,327" stroke="#bcbcbc" stroke-width="1.0" fill="none"/>
<line x1="468.50" y1="327.00" x2="468.50" y2="333.00" stroke="#bcbcbc" stroke-width="1.0"/>
<line x1="467.50" y1="333.00" x2="467.50" y2="358.00" stroke="#bcbcbc" stroke-width="1.0"/>
<line x1="466.50" y1="358.00" x2="466.50" y2="382.50" stroke="#bcbcbc" stroke-width="1.0"/>
<line x1="465.50" y1="382.50" x2="465.50" y2="408.50" stroke="#bcbcbc" stroke-width="1.0"/>
<line x1="546.50" y1="326.50" x2="546.50" y2="348.00" stroke="#bcbcbc" stroke-width="1.0"/>
<line x1="547.50" y1="348.00" x2="547.50" y2="372.70" stroke="#bcbcbc" stroke-width="1.0"/>
<line x1="548.50" y1="372.70" x2="548.50" y2="408.50" stroke="#bcbcbc" stroke-width="1.0"/>
<line x1="465.50" y1="388.50" x2="548.50" y2="388.50" stroke="#bcbcbc" stroke-width="1.0"/>
<path d="M465.5,408.5 H477.3 V405.5 H484.7 V408.5 H529.3 V405.5 H537.5 V408.5 H548.5" stroke="#bcbcbc" stroke-width="1.0" fill="none"/>
<path d="M489.5,408.5 V391.5 H524.5 V408.5" stroke="#bcbcbc" stroke-width="1.0" fill="none"/>
<line x1="505.50" y1="408.50" x2="505.50" y2="459.70" stroke="#c0c0c0" stroke-width="1.0"/>
<line x1="509.50" y1="408.50" x2="509.50" y2="459.70" stroke="#c0c0c0" stroke-width="1.0"/>
<line x1="505.50" y1="423.00" x2="509.50" y2="423.00" stroke="#c0c0c0" stroke-width="1.0"/>
<line x1="484.30" y1="457.50" x2="553.80" y2="457.50" stroke="#c0c0c0" stroke-width="1.0"/>
<path d="M495.00,461.00 L505.50,457.50 L495.00,454.00" stroke="#b2b2b2" stroke-width="0.9" fill="none"/>
<path d="M520.00,454.00 L509.50,457.50 L520.00,461.00" stroke="#b2b2b2" stroke-width="0.9" fill="none"/>
<text x="528.05 535.95 548.25" y="454.00" font-family="Liberation Sans" font-size="11.5" fill="#1e1e1e" stroke="#1e1e1e" stroke-width="0.3">0.8</text>
<path transform="translate(196.75,64.70) scale(0.93,1.03)" d="M0,3 H3.6 M1.8,0 V10 M1.8,3.6 L0,7.6 M1.9,4.2 L3.4,6 M3.9,0.6 H9.6 M4.6,0.6 V8.3 M5.6,2.6 H7.4 V4.6 H5.6 Z M5.2,5.8 H8.8 L5.8,9 M6.2,6.6 L9.4,9 M3.8,9.7 H9.8" stroke="#1e1e1e" stroke-width="1.224" fill="none" stroke-linecap="square"/>
<path transform="translate(207.25,64.70) scale(0.85,1.03)" d="M0.2,2.6 H4.4 M2.3,0 V5.4 M0.6,0.6 L1.2,1.8 M4,0.6 L3.4,1.8 M2.2,3 L0.3,5 M2.4,3 L4.2,4.8 M0,6.8 H4.6 M2.4,5.4 L1,9.8 M1.2,7.4 L4.4,9.9 M5.8,0 L4.9,3.2 M5.2,2.6 H9.2 M8.4,2.8 L5,10 M5.8,5 L9.6,10" stroke="#1e1e1e" stroke-width="1.277" fill="none" stroke-linecap="square"/>
<ellipse cx="474.3" cy="190.8" rx="1.8" ry="2.8" stroke="#1e1e1e" stroke-width="1.1" fill="none"/>
<line x1="472.60" y1="193.80" x2="476.00" y2="187.70" stroke="#1e1e1e" stroke-width="0.8"/>
<text x="478.46" y="193.80" font-family="Liberation Sans" font-size="10.8" fill="#1e1e1e" stroke="#1e1e1e" stroke-width="0.3">2</text>
<path transform="translate(487.25,185.00) scale(0.93,0.98)" d="M0.6,1 H4.6 L2.7,3 M2.7,3 V9.4 L1.6,9 M0,5.2 H5.2 M6.6,0 V8.4 Q6.6,9.6 8,9.6 H9.8 V7.8" stroke="#1e1e1e" stroke-width="1.257" fill="none" stroke-linecap="square"/>
<path d="M428.2,211.6 H434.8 Q434.4,216.2 429.0,218.8" stroke="#1e1e1e" stroke-width="1.15" fill="none"/>
<circle cx="438.60" cy="211.00" r="1.1" stroke="#1e1e1e" stroke-width="0.8" fill="none" shape-rendering="crispEdges"/>
<path d="M449.1,210.8 V215.6 M453.2,210.2 V214.6 Q453.2,217.8 450.2,219.4" stroke="#1e1e1e" stroke-width="1.15" fill="none"/>
<path d="M457.6,211.3 L459.8,213.2 M457.8,218.8 Q462.6,217.6 464.9,213.3" stroke="#1e1e1e" stroke-width="1.15" fill="none"/>
<path d="M469.8,210.3 V219 M470.3,213.8 L474,215.8" stroke="#1e1e1e" stroke-width="1.15" fill="none"/>
<path transform="translate(476.25,209.40) scale(0.9,1.0)" d="M0.6,1.4 H8.8 M2.4,0 V5.4 M6.6,0 V5.4 M2.4,3 H6.6 M2.4,4.3 H6.6 M0,5.6 H9.4 M2.4,5.8 L0.4,7.4 M6.6,5.8 L9,7.4 M2.4,7.6 H6.8 M4.6,6.4 V9.8 M0.6,9.8 H8.8" stroke="#1e1e1e" stroke-width="1.263" fill="none" stroke-linecap="square"/>
<path transform="translate(486.25,209.40) scale(0.9,1.0)" d="M0,3 H3.6 M1.8,0 V10 M1.8,3.6 L0,7.6 M1.9,4.2 L3.4,6 M4.6,1 H9.2 M4.8,1 V5 Q4.8,8.5 3.8,10 M5.2,4.2 H8.8 L5,10 M6,5.2 L9.4,10" stroke="#1e1e1e" stroke-width="1.263" fill="none" stroke-linecap="square"/>
<path transform="translate(496.25,209.40) scale(0.9,1.0)" d="M1,0.6 V6.8 Q1,9 0,10 M1,0.6 H8.8 V9.8 L7.6,9.4 M4.9,0.6 V10 M1,3.6 H8.8 M1,6.6 H8.8" stroke="#1e1e1e" stroke-width="1.263" fill="none" stroke-linecap="square"/>
<path transform="translate(506.00,209.40) scale(0.9,1.0)" d="M0,0.8 H4.8 M1.1,0.8 V9 M3.7,0.8 V10 M1.1,3.6 H3.7 M1.1,6.2 H3.7 M0,9 L4.8,7.8 M5,1.8 H8.6 L5,10 M5.8,3.6 L9.2,10" stroke="#1e1e1e" stroke-width="1.263" fill="none" stroke-linecap="square"/>
<path transform="translate(515.75,209.40) scale(0.9,1.0)" d="M2.6,0 L0,4.6 M1.5,3 V10 M3.6,3 H9.6 M7.6,0 V9.6 L6.4,9.2 M4.6,5 L5.8,7" stroke="#1e1e1e" stroke-width="1.263" fill="none" stroke-linecap="square"/>
<path transform="translate(526.00,209.40) scale(0.9,1.0)" d="M0.6,1 H4.6 L2.7,3 M2.7,3 V9.4 L1.6,9 M0,5.2 H5.2 M6.6,0 V8.4 Q6.6,9.6 8,9.6 H9.8 V7.8" stroke="#1e1e1e" stroke-width="1.263" fill="none" stroke-linecap="square"/>
<path transform="translate(535.25,209.40) scale(0.9,1.0)" d="M2.4,0 L0,4.6 M1.3,3 V10 M2.8,1 H6.6 M4.6,1 L3,6 M3.8,3.6 H6.2 L3,10 M4.2,6 L5.4,7.6 M7.3,2 V7.6 M9.2,0 V9.6 L8,9.2" stroke="#1e1e1e" stroke-width="1.263" fill="none" stroke-linecap="square"/>
</g>
</svg>
</body></html>
